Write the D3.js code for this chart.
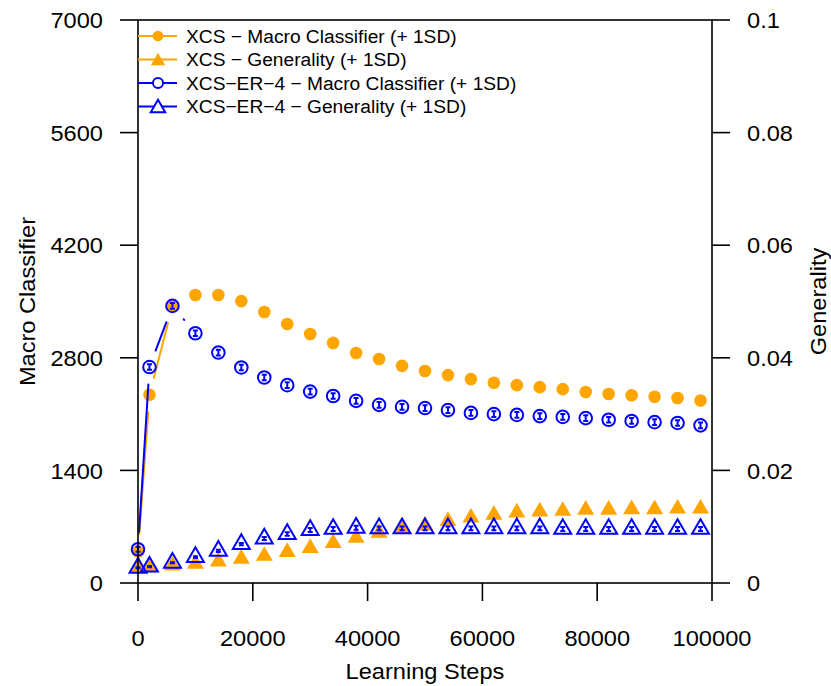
<!DOCTYPE html>
<html><head><meta charset="utf-8">
<script src="https://cdn.jsdelivr.net/npm/d3@7"></script>
<style>body{margin:0;background:#fff}svg{display:block}text{font-family:"Liberation Sans",Arial,sans-serif;fill:#000}</style>
</head><body>
<script>
const steps = [0, 2000, 6000, 10000, 14000, 18000, 22000, 26000, 30000, 34000, 38000, 42000, 46000, 50000, 54000, 58000, 62000, 66000, 70000, 74000, 78000, 82000, 86000, 90000, 94000, 98000];
const xcsMacro = [390, 2340, 3445, 3580, 3580, 3505, 3370, 3220, 3095, 2985, 2860, 2785, 2700, 2635, 2585, 2535, 2490, 2460, 2435, 2410, 2375, 2350, 2335, 2315, 2300, 2270];
const xcsMacroSD = [30, 40, 40, 40, 40, 40, 40, 40, 40, 40, 40, 40, 40, 40, 40, 40, 40, 40, 40, 40, 40, 40, 40, 40, 40, 40];
const erMacro = [420, 2685, 3445, 3105, 2865, 2680, 2555, 2460, 2380, 2325, 2265, 2215, 2190, 2175, 2150, 2115, 2100, 2090, 2075, 2065, 2050, 2030, 2015, 2000, 1990, 1960];
const erMacroSD = [30, 35, 35, 35, 35, 35, 35, 35, 35, 35, 35, 35, 35, 35, 35, 35, 35, 35, 35, 35, 35, 35, 35, 35, 35, 35];
const xcsGen = [0.0027, 0.0028, 0.0031, 0.0034, 0.0038, 0.0043, 0.0048, 0.0055, 0.0062, 0.0071, 0.0080, 0.0089, 0.0096, 0.0102, 0.0110, 0.0116, 0.0121, 0.0125, 0.0127, 0.0128, 0.0130, 0.0130, 0.0131, 0.0131, 0.0132, 0.0132];
const xcsGenSD = [0.0001, 0.0001, 0.0001, 0.00015, 0.0002, 0.0002, 0.00025, 0.0003, 0.0003, 0.0003, 0.0003, 0.0003, 0.0003, 0.0003, 0.0003, 0.0003, 0.0003, 0.0003, 0.0003, 0.0003, 0.0003, 0.0003, 0.0003, 0.0003, 0.0003, 0.0003];
const erGen = [0.0027, 0.0029, 0.0036, 0.0046, 0.0057, 0.0069, 0.0079, 0.0087, 0.0094, 0.0096, 0.0098, 0.0097, 0.0097, 0.0097, 0.0097, 0.0097, 0.0097, 0.0097, 0.0097, 0.0096, 0.0096, 0.0096, 0.0096, 0.0096, 0.0096, 0.0096];
const erGenSD = [0.0001, 0.0001, 0.0001, 0.00015, 0.0002, 0.0002, 0.00025, 0.0003, 0.00035, 0.00035, 0.00035, 0.00035, 0.00035, 0.00035, 0.00035, 0.00035, 0.00035, 0.00035, 0.00035, 0.00035, 0.00035, 0.00035, 0.00035, 0.00035, 0.00035, 0.00035];
const xTicks = [0, 20000, 40000, 60000, 80000, 100000];
const yLeftTicks = [0, 1400, 2800, 4200, 5600, 7000];
const yRightTicks = [0, 0.02, 0.04, 0.06, 0.08, 0.1];
const legendLabels = ["XCS \u2212 Macro Classifier (+ 1SD)", "XCS \u2212 Generality (+ 1SD)", "XCS\u2212ER\u22124 \u2212 Macro Classifier (+ 1SD)", "XCS\u2212ER\u22124 \u2212 Generality (+ 1SD)"];
const xTitle = "Learning Steps", yLeftTitle = "Macro Classifier", yRightTitle = "Generality";

const W = 831, H = 686;
const L = 138, R = 712, T = 20, B = 583;
const ORANGE = "#FFA500", BLUE = "#0000FF";
const svg = d3.select("body").append("svg").attr("width", W).attr("height", H);

const x = d3.scaleLinear().domain([0, 100000]).range([L, R]);
const yL = d3.scaleLinear().domain([0, 7000]).range([B, T]);
const yR = d3.scaleLinear().domain([0, 0.1]).range([B, T]);

const RAD = 6.3;
const TRC0 = 1.5551203, TRC1 = 1.3467737, TRC2 = 0.7775602;
const GAP = 17.5;
const SX = 1.05;

function triPath(cx, cy, xc) {
  const r = TRC0 * xc, yc = TRC2 * xc, w = TRC1 * xc;
  return `M${cx},${cy - r}L${cx + w},${cy + yc}L${cx - w},${cy + yc}Z`;
}

const plot = svg.append("g");

function drawSeries(vals, sds, yScale, color, shape) {
  const pts = steps.map((s, i) => [x(s), yScale(vals[i]), yScale(vals[i] - sds[i]), yScale(vals[i] + sds[i])]);
  const g = plot.append("g");
  for (let i = 0; i < pts.length - 1; i++) {
    const [x0, y0] = pts[i], [x1, y1] = pts[i + 1];
    const dx = x1 - x0, dy = y1 - y0, len = Math.hypot(dx, dy);
    if (len > 2 * GAP) {
      const f = GAP / len;
      g.append("line").attr("x1", x0 + dx * f).attr("y1", y0 + dy * f)
        .attr("x2", x1 - dx * f).attr("y2", y1 - dy * f)
        .attr("stroke", color).attr("stroke-width", 2).attr("stroke-linecap", "round");
    }
  }
  pts.forEach(([px, py, ylo, yhi]) => {
    if (shape === "dot") g.append("circle").attr("cx", px).attr("cy", py).attr("r", RAD).attr("fill", color);
    else if (shape === "ring") g.append("circle").attr("cx", px).attr("cy", py).attr("r", RAD).attr("fill", "none").attr("stroke", color).attr("stroke-width", 2);
    else if (shape === "tri") g.append("path").attr("d", triPath(px, py, RAD)).attr("fill", color);
    else g.append("path").attr("d", triPath(px, py, RAD)).attr("fill", "none").attr("stroke", color).attr("stroke-width", 2).attr("stroke-linejoin", "miter");
    const cw = 2.5;
    g.append("path").attr("d", `M${px},${ylo}L${px},${yhi}M${px - cw},${ylo}L${px + cw},${ylo}M${px - cw},${yhi}L${px + cw},${yhi}`)
      .attr("stroke", color).attr("stroke-width", 2).attr("fill", "none");
  });
}

drawSeries(xcsMacro, xcsMacroSD, yL, ORANGE, "dot");
drawSeries(xcsGen, xcsGenSD, yR, ORANGE, "tri");
drawSeries(erMacro, erMacroSD, yL, BLUE, "ring");
drawSeries(erGen, erGenSD, yR, BLUE, "otri");

const axG = svg.append("g").attr("stroke", "#000").attr("stroke-width", 1.6).attr("fill", "none");
axG.append("rect").attr("x", L).attr("y", T).attr("width", R - L).attr("height", B - T);
const TL = 18;
xTicks.forEach(v => axG.append("line").attr("x1", x(v)).attr("x2", x(v)).attr("y1", B).attr("y2", B + TL));
yLeftTicks.forEach(v => axG.append("line").attr("x1", L - TL).attr("x2", L).attr("y1", yL(v)).attr("y2", yL(v)));
yRightTicks.forEach(v => axG.append("line").attr("x1", R).attr("x2", R + TL).attr("y1", yR(v)).attr("y2", yR(v)));

const FS = 22.5;
const txt = svg.append("g").style("font-size", FS + "px");
function label(px, py, s, anchor, dy, rot) {
  const t = txt.append("text").attr("text-anchor", anchor).attr("dy", dy).text(s);
  t.attr("transform", rot ? `translate(${px},${py}) rotate(-90) scale(${SX},1)` : `translate(${px},${py}) scale(${SX},1)`);
  return t;
}
xTicks.forEach(v => label(x(v), 646, d3.format("d")(v), "middle", 0));
yLeftTicks.forEach(v => label(103, yL(v), d3.format("d")(v), "end", "0.36em"));
yRightTicks.forEach(v => label(747, yR(v), String(v), "start", "0.36em"));
label((L + R) / 2, 679, xTitle, "middle", 0);
label(35, (T + B) / 2, yLeftTitle, "middle", 0, true);
label(826, (T + B) / 2, yRightTitle, "middle", 0, true);

const legColors = [ORANGE, ORANGE, BLUE, BLUE];
const legShapes = ["dot", "tri", "ring", "otri"];
const leg = svg.append("g");
legendLabels.forEach((lab, i) => {
  const ly = 36 + i * 23.5;
  leg.append("line").attr("x1", L).attr("x2", 177).attr("y1", ly).attr("y2", ly).attr("stroke", legColors[i]).attr("stroke-width", 2);
  const mx = 158;
  const s = legShapes[i];
  if (s === "dot") leg.append("circle").attr("cx", mx).attr("cy", ly).attr("r", RAD * 0.85).attr("fill", legColors[i]);
  else if (s === "ring") leg.append("circle").attr("cx", mx).attr("cy", ly).attr("r", RAD * 0.8).attr("fill", "#fff").attr("stroke", legColors[i]).attr("stroke-width", 2);
  else if (s === "tri") leg.append("path").attr("d", triPath(mx, ly + 1.5, RAD * 0.85)).attr("fill", legColors[i]);
  else leg.append("path").attr("d", triPath(mx, ly + 1.5, RAD * 0.85)).attr("fill", "#fff").attr("stroke", legColors[i]).attr("stroke-width", 2);
  leg.append("text").attr("transform", `translate(186,${ly}) scale(1.01,1)`).attr("dy", "0.36em").style("font-size", "19px").text(lab);
});
</script>
</body></html>
